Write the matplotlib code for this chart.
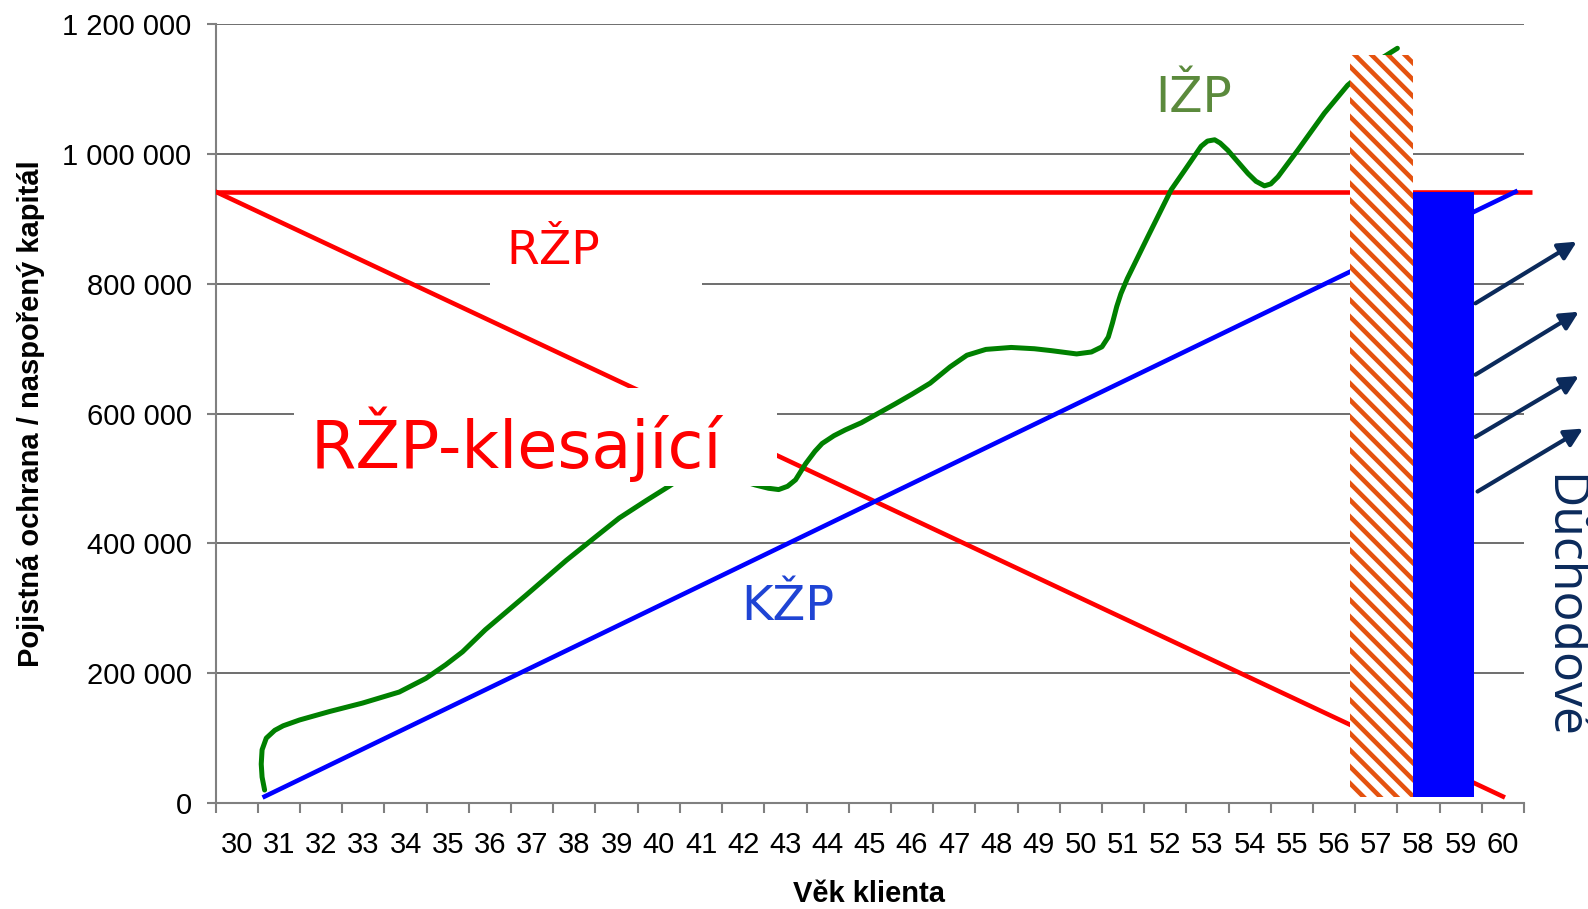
import matplotlib
matplotlib.use("Agg")
import matplotlib.pyplot as plt
from matplotlib.patches import Rectangle

plt.rcParams["font.family"] = ["Liberation Sans", "DejaVu Sans"]
plt.rcParams["hatch.linewidth"] = 3.3

# data
ages = list(range(30, 61))
y_ticks = [0, 200000, 400000, 600000, 800000, 1000000, 1200000]

# RZP - flat and falling
rzp_age = [29.5, 60.7]
rzp_val = [942000, 942000]
rzp_kles_age = [29.5, 60.0]
rzp_kles_val = [942000, 10000]

# KZP - straight line
kzp_age = [30.66, 60.3]
kzp_val = [10000, 942000]

# IZP - wavy curve
izp_age = [30.66, 30.6, 30.58, 30.6, 30.7, 30.9, 31.1, 31.49, 32.20, 32.98,
           33.85, 34.48, 34.95, 35.35, 35.89, 36.85, 37.81, 38.5, 39.06, 39.7,
           40.24, 40.7, 41.2, 41.7, 42.0, 42.29, 42.6, 42.84, 43.05, 43.24,
           43.48, 43.7, 43.87, 44.15, 44.42, 44.8, 45.13, 45.6, 46.0, 46.43,
           46.9, 47.3, 47.75, 48.35, 48.9, 49.31, 49.9, 50.25, 50.5, 50.65,
           50.75, 50.85, 50.95, 51.1, 51.59, 52.14, 52.46, 52.85, 53.0, 53.17,
           53.3, 53.48, 53.96, 54.15, 54.35, 54.5, 54.67, 55.14, 55.77, 56.32,
           56.8, 57.11, 57.5]
izp_val = [20000, 40000, 60000, 82000, 100000, 112000, 119000, 128000, 141000, 154000,
           171000, 192000, 213000, 233000, 267000, 320000, 374000, 410000, 439000, 466000,
           488000, 508000, 518000, 508000, 496000, 490000, 485000, 483000, 488000, 498000,
           523000, 542000, 554000, 566000, 575000, 586000, 598000, 615000, 630000, 647000,
           672000, 690000, 699000, 702000, 700000, 697000, 692000, 695000, 703000, 718000,
           740000, 765000, 785000, 808000, 873000, 945000, 975000, 1012000, 1020000, 1022000,
           1017000, 1006000, 970000, 958000, 951000, 954000, 965000, 1006000, 1063000, 1106000,
           1132000, 1147000, 1163000]

# bars at retirement
bar_hatch_x, bar_hatch_w, bar_hatch_top = 57.125, 1.49, 1152000
bar_blue_x, bar_blue_w, bar_blue_top = 58.59, 1.44, 942000
bar_bottom = 10000

# arrows to the right (start / end)
arr_x0 = [59.35, 59.35, 59.35, 59.4]
arr_y0 = [770000, 660000, 564000, 480000]
arr_x1 = [61.75, 61.8, 61.8, 61.9]
arr_y1 = [865000, 757000, 658000, 577000]

navy = "#0b2a5b"
orange = "#e5520f"

fig = plt.figure(figsize=(15.88, 9.09), dpi=100)
ax = fig.add_axes([0.1358, 0.1166, 0.8239, 0.8567])

ax.plot(rzp_age, rzp_val, color="#ff0000", lw=3.3, zorder=3, clip_on=False,
        solid_capstyle="butt")
ax.plot(rzp_kles_age, rzp_kles_val, color="#ff0000", lw=3.3, zorder=3)
ax.plot(kzp_age, kzp_val, color="#0000ff", lw=3.3, zorder=3)
ax.plot(izp_age, izp_val, color="#008000", lw=3.6, zorder=3,
        solid_joinstyle="round", solid_capstyle="round")

ax.bar(bar_hatch_x, bar_hatch_top - bar_bottom, bottom=bar_bottom, width=bar_hatch_w,
       facecolor="white", edgecolor=orange, hatch="\\\\", lw=0, zorder=4)
ax.bar(bar_blue_x, bar_blue_top - bar_bottom, bottom=bar_bottom, width=bar_blue_w,
       color="#0000ff", lw=0, zorder=4)

for x0, y0, x1, y1 in zip(arr_x0, arr_y0, arr_x1, arr_y1):
    ax.annotate("", xy=(x1, y1), xytext=(x0, y0), annotation_clip=False,
                arrowprops=dict(arrowstyle="-|>", color=navy, lw=3,
                                mutation_scale=27, shrinkA=0, shrinkB=0),
                zorder=6)

# white label boxes
ax.add_patch(Rectangle((31.35, 488000), 42.80 - 31.35, 639000 - 488000,
                       facecolor="white", edgecolor="none", zorder=5))
ax.add_patch(Rectangle((35.99, 787000), 41.03 - 35.99, 921000 - 787000,
                       facecolor="white", edgecolor="none", zorder=5))

ann = dict(family="DejaVu Sans", ha="left", va="baseline", zorder=7)
ax.text(31.76, 517000, "RŽP-klesající", fontsize=47, color="#ff0000", **ann)
ax.text(36.39, 831000, "RŽP", fontsize=34, color="#ff0000", **ann)
ax.text(51.76, 1065000, "IŽP", fontsize=35, color="#5b8a3c", **ann)
ax.text(41.95, 282000, "KŽP", fontsize=34.5, color="#1f44d4", **ann)

fig.text(1549 / 1588, 1 - 474 / 909, "Důchodové", family="Open Sans",
         fontsize=36, color=navy, rotation=-90, rotation_mode="anchor",
         ha="left", va="baseline")

ax.set_xlim(29.5, 60.5)
ax.set_ylim(0, 1200000)
ax.set_xticks(ages)
ax.set_xticklabels([str(a) for a in ages])
ax.set_xticks([a - 0.5 for a in ages] + [60.5], minor=True)
ax.set_yticks(y_ticks)
ax.set_yticklabels([f"{v:,}".replace(",", " ") for v in y_ticks])
ax.tick_params(axis="x", which="major", length=0, pad=20, labelsize=21)
ax.tick_params(axis="x", which="minor", length=7.2, width=1.5, color="#808080")
ax.tick_params(axis="y", length=6.5, width=1.5, color="#808080", pad=10.8, labelsize=21)

ax.yaxis.grid(True, color="#555555", lw=1.2)
ax.set_axisbelow(True)
for s in ["top", "right"]:
    ax.spines[s].set_visible(False)
for s in ["left", "bottom"]:
    ax.spines[s].set_color("#808080")
    ax.spines[s].set_linewidth(1.5)

fig.text(39.5 / 1588, 1 - 413.7 / 909, "Pojistná ochrana / naspořený kapitál",
         fontsize=21, fontweight="bold", rotation=90, rotation_mode="anchor",
         ha="center", va="baseline")
fig.text(869 / 1588, 1 - 902 / 909, "Věk klienta", fontsize=21,
         fontweight="bold", ha="center", va="baseline")

fig.savefig("out.png", dpi=100)
